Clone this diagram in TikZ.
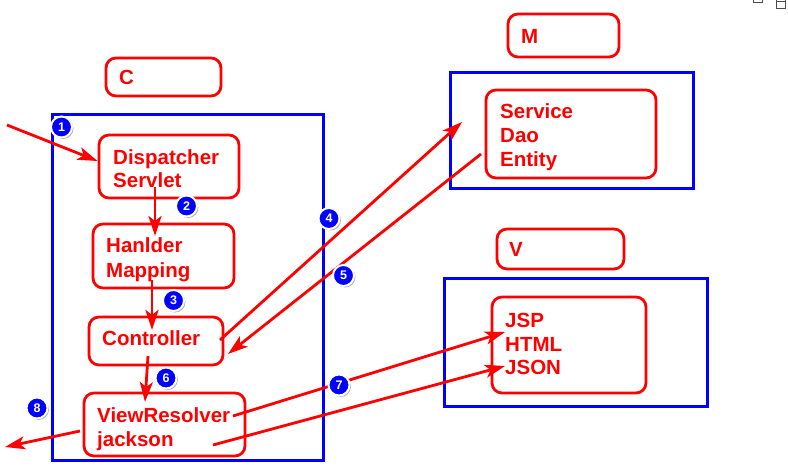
\documentclass[tikz,border=0pt]{standalone}
\usepackage{fontspec}
\setmainfont{Liberation Sans}
\usetikzlibrary{arrows.meta,shadows}
\begin{document}
\begin{tikzpicture}[x=1pt,y=-1pt,
  rbox/.style={draw=red,line width=2.8pt,rounded corners=10pt,inner sep=0pt},
  bbox/.style={draw=blue,line width=3pt,inner sep=0pt},
  txt/.style={text=red,font=\fontsize{20.5}{23}\selectfont\bfseries,anchor=base west,inner sep=0pt},
  arr/.style={draw=red,line width=2.8pt,-{Stealth[length=20pt,width=13pt,inset=5pt]}},
  badge/.style={circle,fill=blue,draw=white,line width=2pt,text=white,inner sep=0pt,
    minimum size=21pt,font=\fontsize{12.5}{12.5}\selectfont\bfseries,
    drop shadow={shadow xshift=1.5pt,shadow yshift=-1.5pt,fill=black!45,opacity=0.7}}]
\useasboundingbox (0,0) rectangle (788,468);
% window artefacts
\draw[black!70,line width=0.8pt] (753,-2) rectangle (762,2);
\draw[black!70,line width=0.8pt] (776,-2) rectangle (785,8) (776,1) -- (785,1);
% C
\node[rbox,minimum width=115,minimum height=38] (clab) at (163.5,77) {};
\node[txt] (ct) at (119,85) {C};
\node[bbox,minimum width=271,minimum height=345] (cfr) at (187.5,287.5) {};
% M
\node[rbox,minimum width=111,minimum height=43] (mlab) at (563.5,35.5) {};
\node[txt] (mt) at (521,44) {M};
\node[bbox,minimum width=243,minimum height=116] (mfr) at (571.5,131) {};
\node[rbox,minimum width=170,minimum height=88] (svc) at (571,134) {};
\node[txt] at (500,119) {Service};
\node[txt] at (500,143) {Dao};
\node[txt] at (500,167) {Entity};
% V
\node[rbox,minimum width=127,minimum height=40] (vlab) at (560.5,249) {};
\node[txt] (vt) at (509,257) {V};
\node[bbox,minimum width=263,minimum height=128] (vfr) at (575.5,342) {};
\node[rbox,minimum width=154,minimum height=96] (jsp) at (569,345) {};
\node[txt] at (505,327) {JSP};
\node[txt] at (505,351) {HTML};
\node[txt] at (505,374) {JSON};
% C contents
\node[rbox,minimum width=140,minimum height=63] (disp) at (169,166.5) {};
\node[txt] at (113,165) {Dispatcher};
\node[txt] at (113,188) {Servlet};
\node[rbox,minimum width=141,minimum height=64] (hm) at (163.5,256) {};
\node[txt] at (106,253) {Hanlder};
\node[txt] at (106,277) {Mapping};
\node[rbox,minimum width=134,minimum height=48] (ctrl) at (156,341) {};
\node[txt] at (102,345) {Controller};
\node[rbox,minimum width=161,minimum height=63] (vr) at (164.5,424.5) {};
\node[txt] at (97,422) {ViewResolver};
\node[txt] at (97,446) {jackson};
% arrow end points
\coordinate (in1) at (7,125);
\coordinate (out8) at (5,447);
\coordinate (dA) at (155,187);
\coordinate (hT) at (155,236);
\coordinate (hA) at (152,280);
\coordinate (cT) at (152,330);
\coordinate (cA) at (148,356);
\coordinate (vT) at (145,402);
\coordinate (c4) at (220,340);
\coordinate (m4) at (462,122);
\coordinate (m5) at (481,154);
\coordinate (c5) at (228,354);
\coordinate (v7a) at (233,416);
\coordinate (j7a) at (505,332);
\coordinate (v7b) at (213,445);
\coordinate (j7b) at (505,366);
\coordinate (v8) at (80,431);
% arrows
\draw[arr] (in1) -- (disp.west |- 0,161);
\draw[arr] (dA) -- (hT);
\draw[arr] (hA) -- (cT);
\draw[arr] (cA) -- (vT);
\draw[arr] (c4) -- (m4);
\draw[arr] (m5) -- (c5);
\draw[arr] (v7a) -- (j7a);
\draw[arr] (v7b) -- (j7b);
\draw[arr] (v8) -- (out8);
% badges
\node[badge] (b1) at (61.5,127) {1};
\node[badge] (b2) at (186.5,206) {2};
\node[badge] (b3) at (173.5,300.5) {3};
\node[badge] (b4) at (329,218.5) {4};
\node[badge] (b5) at (343.5,275.5) {5};
\node[badge] (b6) at (166,378) {6};
\node[badge] (b7) at (339,385) {7};
\node[badge] (b8) at (37,408) {8};
\end{tikzpicture}
\end{document}
